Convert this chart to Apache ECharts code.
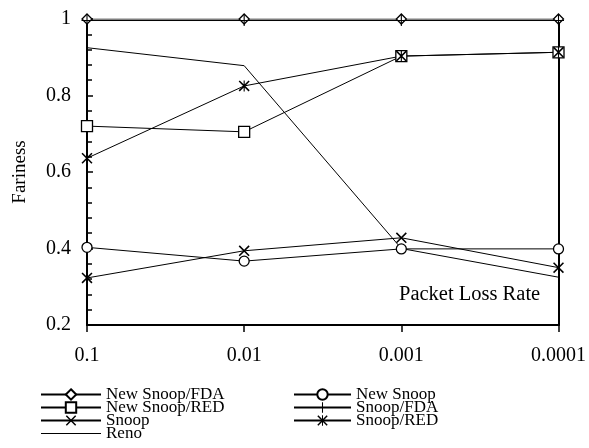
<!DOCTYPE html>
<html>
<head>
<meta charset="utf-8">
<script src="https://cdn.jsdelivr.net/npm/echarts@6/dist/echarts.min.js"></script>
<style>
  html, body { margin: 0; padding: 0; background: #fff; }
  #chart { width: 589px; height: 448px; }
</style>
</head>
<body>
<div id="chart"></div>
<script>
// 丢包率（横轴类别）
var lossRates = ['0.1', '0.01', '0.001', '0.0001'];
var yTicks = [0.2, 0.4, 0.6, 0.8, 1];

// 各方案公平性
var newSnoopFDA = [1.0, 1.0, 1.0, 1.0];
var newSnoop = [0.403, 0.367, 0.399, 0.399];
var newSnoopRED = [0.720, 0.705, 0.903, 0.913];
var snoopFDA = [0.996, 0.996, 0.996, 0.996];
var snoop = [0.323, 0.394, 0.428, 0.350];
var snoopRED = [0.636, 0.825, 0.903, 0.913];
var reno = [0.925, 0.878, 0.400, 0.325];

var FONT = '"Liberation Serif", "DejaVu Serif", serif';

// 自定义符号（实心细线拼成）
var crossPath = 'path://M0,1 L1,0 L10,9 L9,10 Z M9,0 L10,1 L1,10 L0,9 Z';
var plusPath = 'path://M4.5,0 L5.5,0 L5.5,10 L4.5,10 Z M0,4.5 L10,4.5 L10,5.5 L0,5.5 Z';
var starPath = 'path://M0,1 L1,0 L10,9 L9,10 Z M9,0 L10,1 L1,10 L0,9 Z M4.5,0 L5.5,0 L5.5,10 L4.5,10 Z';
// Reno 图例只画一条线
var lineIcon = 'path://M0,0 L0,0 M60,13 L60,13 M0,6 L60,6 L60,7 L0,7 Z';

function makeSeries(name, data, symbol, size, hollow) {
  return {
    name: name,
    type: 'line',
    data: data,
    symbol: symbol,
    symbolSize: size,
    showSymbol: symbol !== 'none',
    lineStyle: { color: '#000', width: 1 },
    itemStyle: hollow
      ? { color: '#fff', borderColor: '#000', borderWidth: 1.3 }
      : { color: '#000', borderWidth: 0 },
    emphasis: { disabled: true },
    animation: false
  };
}

var legendText = { fontFamily: FONT, fontSize: 17, color: '#000' };

var chart = echarts.init(document.getElementById('chart'));
var option = {
  backgroundColor: '#fff',
  animation: false,
  grid: { left: 87, right: 30, top: 19, bottom: 123 },
  legend: [{
    orient: 'vertical',
    left: 40,
    top: 386,
    padding: 0,
    itemWidth: 60,
    itemHeight: 13,
    itemGap: -4,
    textStyle: legendText,
    data: ['New Snoop/FDA', 'New Snoop/RED', 'Snoop', { name: 'Reno', icon: lineIcon }]
  }, {
    orient: 'vertical',
    left: 293,
    top: 386,
    padding: 0,
    itemWidth: 57,
    itemHeight: 13,
    itemGap: -4,
    textStyle: legendText,
    data: ['New Snoop', 'Snoop/FDA', 'Snoop/RED']
  }],
  xAxis: {
    type: 'category',
    data: lossRates,
    boundaryGap: false,
    axisLine: { lineStyle: { color: '#000', width: 2 } },
    axisTick: { show: true, length: 7, lineStyle: { color: '#000', width: 1.5 } },
    axisLabel: { color: '#000', fontFamily: FONT, fontSize: 20, margin: 21 },
    splitLine: { show: false }
  },
  yAxis: [{
    type: 'value',
    min: yTicks[0],
    max: yTicks[yTicks.length - 1],
    interval: 0.2,
    name: 'Fariness',
    nameLocation: 'middle',
    nameGap: 57,
    nameTextStyle: { color: '#000', fontFamily: FONT, fontSize: 19 },
    axisLine: { show: true, lineStyle: { color: '#000', width: 2 } },
    axisTick: { show: true, inside: true, length: 6, lineStyle: { color: '#000', width: 1.5 } },
    minorTick: { show: true, splitNumber: 5, length: 5, lineStyle: { color: '#000', width: 1.5 } },
    axisLabel: {
      color: '#000', fontFamily: FONT, fontSize: 20, margin: 16,
      formatter: function (v) { return String(parseFloat(v.toFixed(2))); }
    },
    splitLine: { show: false }
  }, {
    type: 'value',
    position: 'right',
    min: yTicks[0],
    max: yTicks[yTicks.length - 1],
    interval: 0.2,
    axisLine: { show: true, lineStyle: { color: '#000', width: 2 } },
    axisTick: { show: false },
    axisLabel: { show: false },
    splitLine: { show: false }
  }],
  graphic: [{
    type: 'text',
    left: 399,
    top: 284,
    style: { text: 'Packet Loss Rate', fontFamily: FONT, fontSize: 20.5, fill: '#000' }
  }],
  series: [
    makeSeries('New Snoop/FDA', newSnoopFDA, 'diamond', 10, true),
    makeSeries('New Snoop', newSnoop, 'circle', 10, true),
    makeSeries('New Snoop/RED', newSnoopRED, 'rect', 11, true),
    makeSeries('Snoop/FDA', snoopFDA, plusPath, 11, false),
    makeSeries('Snoop', snoop, crossPath, 11, false),
    makeSeries('Snoop/RED', snoopRED, starPath, 11, false),
    makeSeries('Reno', reno, 'none', 0, false)
  ]
};
chart.setOption(option);
</script>
</body>
</html>
